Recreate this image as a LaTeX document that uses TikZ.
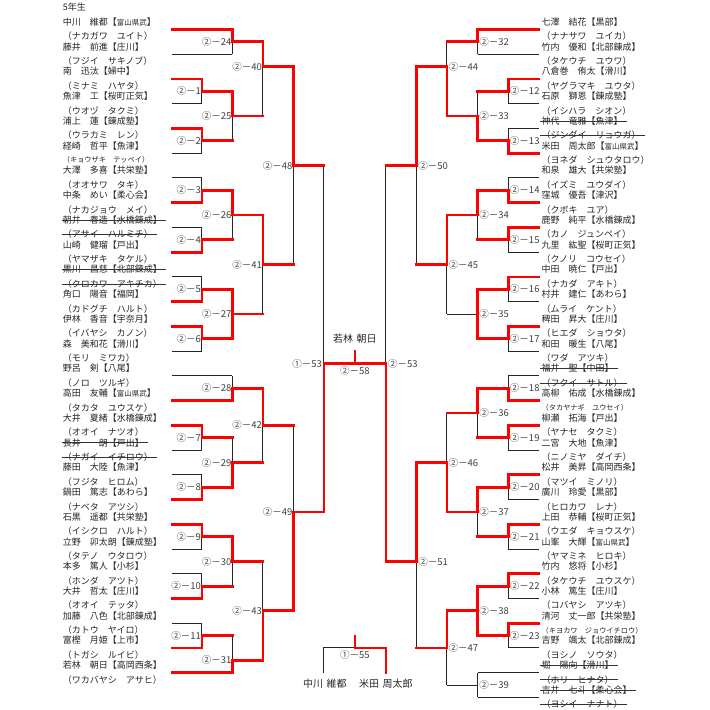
\documentclass[tikz,border=0pt]{standalone}
\usepackage{fontspec}
\setmainfont{Noto Sans CJK JP}
\usepackage{tikz}
\usetikzlibrary{calc}
\definecolor{winred}{RGB}{255,0,0}
\tikzset{
  win/.style={draw=winred, line width=2.8pt, line cap=rect},
  lose/.style={draw=black!85, line width=1pt},
  entrant/.style={anchor=west, inner sep=0pt, text=black!85, font=\fontsize{9}{10}\selectfont},
  score/.style={inner sep=0pt, text=black!75, font=\fontsize{9.5}{10}\selectfont},
  champ/.style={inner sep=0pt, text=black!85, font=\fontsize{10}{11}\selectfont},
  strike/.style={draw=black!80, line width=0.6pt}
}
\newcommand{\kenbu}{{\fontsize{7.5}{8}\selectfont 富山県武}}
\newcommand{\smallkana}[1]{{\fontsize{7.2}{8}\selectfont #1}}

\begin{document}
\begin{tikzpicture}[x=1pt, y=-12.37pt]
  % one row = half the spacing of two entrants
  \useasboundingbox (0,-2.385) rectangle (710,55.013);
  \fill[white] (0,-2.385) rectangle (710,55.013);

  \node[entrant] (grade) at (62.7,-1.8) {5年生};

  % Left entrants
  \foreach \nm/\kn [count=\i] in {
    {中川　維都【\kenbu】}/{（ナカガワ　ユイト）},
    {藤井　前進【庄川】}/{（フジイ　サキノブ）},
    {南　迅汰【婦中】}/{（ミナミ　ハヤタ）},
    {魚津　工【桜町正気】}/{（ウオヅ　タクミ）},
    {浦上　蓮【錬成塾】}/{（ウラカミ　レン）},
    {経崎　哲平【魚津】}/{\smallkana{（キョウザキ　テッペイ）}},
    {大澤　多喜【共栄塾】}/{（オオサワ　タキ）},
    {中条　めい【柔心会】}/{（ナカジョウ　メイ）},
    {朝井　春造【水橋錬成】}/{（アサイ　ハルミチ）},
    {山崎　健瑠【戸出】}/{（ヤマザキ　タケル）},
    {黒川　昌慈【北部錬成】}/{（クロカワ　アキチカ）},
    {角口　陽音【福岡】}/{（カドグチ　ハルト）},
    {伊林　香音【宇奈月】}/{（イバヤシ　カノン）},
    {森　美和花【滑川】}/{（モリ　ミワカ）},
    {野呂　剣【八尾】}/{（ノロ　ツルギ）},
    {高田　友輔【\kenbu】}/{（タカタ　ユウスケ）},
    {大井　夏緒【水橋錬成】}/{（オオイ　ナツオ）},
    {長井　一朗【戸出】}/{（ナガイ　イチロウ）},
    {藤田　大陸【魚津】}/{（フジタ　ヒロム）},
    {鍋田　篤志【あわら】}/{（ナベタ　アツシ）},
    {石黒　遥都【共栄塾】}/{（イシクロ　ハルト）},
    {立野　卯太朗【錬成塾】}/{（タテノ　ウタロウ）},
    {本多　篤人【小杉】}/{（ホンダ　アツト）},
    {大井　哲太【庄川】}/{（オオイ　テッタ）},
    {加藤　八色【北部錬成】}/{（カトウ　ヤイロ）},
    {富樫　月姫【上市】}/{（トガシ　ルイビ）},
    {若林　朝日【高岡西条】}/{（ワカバヤシ　アサヒ）}}{
    \node[entrant] (nl\i) at (62.7,{2*(\i-1)-0.6}) {\nm};
    \node[entrant] (kl\i) at (62.7,{2*(\i-1)+0.57}) {\kn};
    \coordinate (pl\i) at (172,{2*(\i-1)});
  }

  % Right entrants
  \foreach \nm/\kn [count=\i] in {
    {七澤　結花【黒部】}/{（ナナサワ　ユイカ）},
    {竹内　優和【北部錬成】}/{（タケウチ　ユウワ）},
    {八倉巻　侑太【滑川】}/{（ヤグラマキ　ユウタ）},
    {石原　獅恩【錬成塾】}/{（イシハラ　シオン）},
    {神代　竜雅【魚津】}/{（ジンダイ　リョウガ）},
    {米田　周太郎【\kenbu】}/{（ヨネダ　シュウタロウ）},
    {和泉　雄大【共栄塾】}/{（イズミ　ユウダイ）},
    {窪城　優吾【津沢】}/{（クボキ　ユア）},
    {鹿野　純平【水橋錬成】}/{（カノ　ジュンペイ）},
    {九里　紘聖【桜町正気】}/{（クノリ　コウセイ）},
    {中田　暁仁【戸出】}/{（ナカダ　アキト）},
    {村井　建仁【あわら】}/{（ムライ　ケント）},
    {稗田　昇大【庄川】}/{（ヒエダ　ショウタ）},
    {和田　暖生【八尾】}/{（ワダ　アツキ）},
    {福井　聖【中田】}/{（フクイ　サトル）},
    {高柳　佑成【水橋錬成】}/{\smallkana{（タカヤナギ　ユウセイ）}},
    {柳瀬　拓海【戸出】}/{（ヤナセ　タクミ）},
    {二宮　大地【魚津】}/{（ニノミヤ　ダイチ）},
    {松井　美昇【高岡西条】}/{（マツイ　ミノリ）},
    {廣川　玲愛【黒部】}/{（ヒロカワ　レナ）},
    {上田　恭輔【桜町正気】}/{（ウエダ　キョウスケ）},
    {山峯　大輝【\kenbu】}/{（ヤマミネ　ヒロキ）},
    {竹内　悠将【小杉】}/{（タケウチ　ユウスケ）},
    {小林　篤生【庄川】}/{（コバヤシ　アツキ）},
    {清河　丈一郎【共栄塾】}/{\smallkana{（キヨカワ　ジョウイチロウ）}},
    {吉野　颯太【北部錬成】}/{（ヨシノ　ソウタ）},
    {堀　陽向【滑川】}/{（ホリ　ヒナタ）},
    {吉井　七斗【柔心会】}/{（ヨシイ　ナナト）}}{
    \node[entrant] (nr\i) at (541.5,{2*(\i-1)-0.6}) {\nm};
    \node[entrant] (kr\i) at (541.5,{2*(\i-1)+0.57}) {\kn};
    \coordinate (pr\i) at (539,{2*(\i-1)});
  }

  % withdrawn entrants
  \foreach \n in {nl9,kl9,nl11,kl11,nl18,kl18,nr5,kr5,nr15,kr15,nr27,kr27,nr28,kr28}
    \draw[strike] ([xshift=-1pt]\n.west) -- ([xshift=4pt]\n.east);

  % match joints (x, row)
  \foreach \m/\x/\r in {24/232.5/1, 1/202/5, 2/202/9, 25/232.5/7, 40/263/3,
      3/202/13, 4/202/17, 26/232.5/15, 5/202/21, 6/202/25, 27/232.5/23,
      41/263/19, 48/293.5/11, 28/232.5/29, 7/202/33, 8/202/37, 29/232.5/35,
      42/263/32, 9/202/41, 10/202/45, 30/232.5/43, 11/202/49, 31/232.5/51,
      43/263/47, 49/293.5/39,
      32/477.7/1, 12/508.3/5, 13/508.3/9, 33/477.7/7, 44/447/3,
      14/508.3/13, 15/508.3/17, 34/477.7/15, 16/508.3/21, 17/508.3/25,
      35/477.7/23, 45/447/19, 50/416.7/11, 18/508.3/29, 19/508.3/33,
      36/477.7/31, 20/508.3/37, 21/508.3/41, 37/477.7/39, 46/447/35,
      22/508.3/45, 23/508.3/49, 38/477.7/47, 39/477.7/53, 47/447/50,
      51/416.7/43}
    \coordinate (m\m) at (\x,\r);
  \coordinate (sfa) at (324,27);
  \coordinate (sfb) at (386,27);
  \coordinate (m58) at (355,27);
  \coordinate (m58t) at (355,26.05);
  \coordinate (m55) at (355,50);
  \coordinate (m55t) at (355,49.03);
  \coordinate (t3a) at (324,52);
  \coordinate (t3b) at (386,52);

  % losing sides
  \foreach \a/\b/\h in {pl2/m24/lose, pl4/m1/lose, pl6/m2/lose, pl7/m3/lose,
      pl9/m4/lose, pl11/m5/lose, pl14/m6/lose, pl15/m28/lose, pl18/m7/lose,
      pl19/m8/lose, pl22/m9/lose, pl23/m10/lose, pl25/m11/lose,
      m2/m25/win, m25/m40/win, m4/m26/win, m27/m41/win, m41/m48/win,
      m7/m29/win, m29/m42/win, m10/m30/win, m11/m31/win, m30/m43/win,
      m42/m49/win, m48/sfa/win,
      pr2/m32/lose, pr4/m12/lose, pr5/m13/lose, pr7/m14/lose, pr10/m15/lose,
      pr12/m16/lose, pr14/m17/lose, pr15/m18/lose, pr18/m19/lose,
      pr20/m20/lose, pr22/m21/lose, pr24/m22/lose, pr26/m23/lose,
      pr27/m39/lose, pr28/m39/lose,
      m12/m33/win, m32/m44/win, m15/m34/win, m35/m45/lose, m45/m50/win,
      m19/m36/win, m21/m37/win, m36/m46/win, m39/m47/lose, m47/m51/win,
      m50/sfb/win}{
    \draw[lose] (\a -| \b) -- (\b);
    \draw[\h] (\a) -- (\a -| \b);
  }

  % winning sides
  \foreach \a/\b in {pl1/m24, pl3/m1, pl5/m2, pl8/m3, pl10/m4, pl12/m5,
      pl13/m6, pl16/m28, pl17/m7, pl20/m8, pl21/m9, pl24/m10, pl26/m11,
      pl27/m31, m1/m25, m24/m40, m3/m26, m5/m27, m6/m27, m26/m41, m40/m48,
      m28/m42, m8/m29, m9/m30, m31/m43, m43/m49, m49/sfa,
      pr1/m32, pr3/m12, pr6/m13, pr8/m14, pr9/m15, pr11/m16, pr13/m17,
      pr16/m18, pr17/m19, pr19/m20, pr21/m21, pr23/m22, pr25/m23,
      m13/m33, m33/m44, m14/m34, m16/m35, m17/m35, m34/m45, m44/m50,
      m18/m36, m20/m37, m37/m46, m22/m38, m23/m38, m38/m47, m46/m51,
      m51/sfb}
    \draw[win] (\a) -| (\b);

  % final and third place
  \draw[win] (sfa) -- (sfb);
  \draw[win] (m58) -- (m58t);
  \draw[lose] (t3a) |- (m55);
  \draw[win] (t3b) |- (m55);
  \draw[win] (m55) -- (m55t);

  % match numbers
  \foreach \m in {24,1,2,25,40,3,4,26,5,6,27,41,48,28,7,8,29,42,9,10,30,11,31,43,49}
    \node[score, anchor=east] (s\m) at ([xshift=-1pt]m\m) {②－\m};
  \foreach \m in {32,12,13,33,44,14,15,34,16,17,35,45,50,18,19,36,20,21,37,46,22,23,38,39,47,51}
    \node[score, anchor=west] (s\m) at ([xshift=1.5pt]m\m) {②－\m};
  \node[score, anchor=east] (s53a) at ([xshift=-2pt]sfa) {①－53};
  \node[score, anchor=west] (s53b) at ([xshift=2pt]sfb) {②－53};
  \node[score, anchor=north] (s58) at ([yshift=-2.5pt]m58) {②－58};
  \node[score, anchor=north] (s55) at ([yshift=-1.8pt]m55) {①－55};

  \node[champ] (winner) at (355,25.0) {若林\hspace{.35em}朝日};
  \node[champ] (thirdA) at (325,52.9) {中川\hspace{.35em}維都};
  \node[champ] (thirdB) at (386,52.9) {米田\hspace{.35em}周太郎};
\end{tikzpicture}
\end{document}
